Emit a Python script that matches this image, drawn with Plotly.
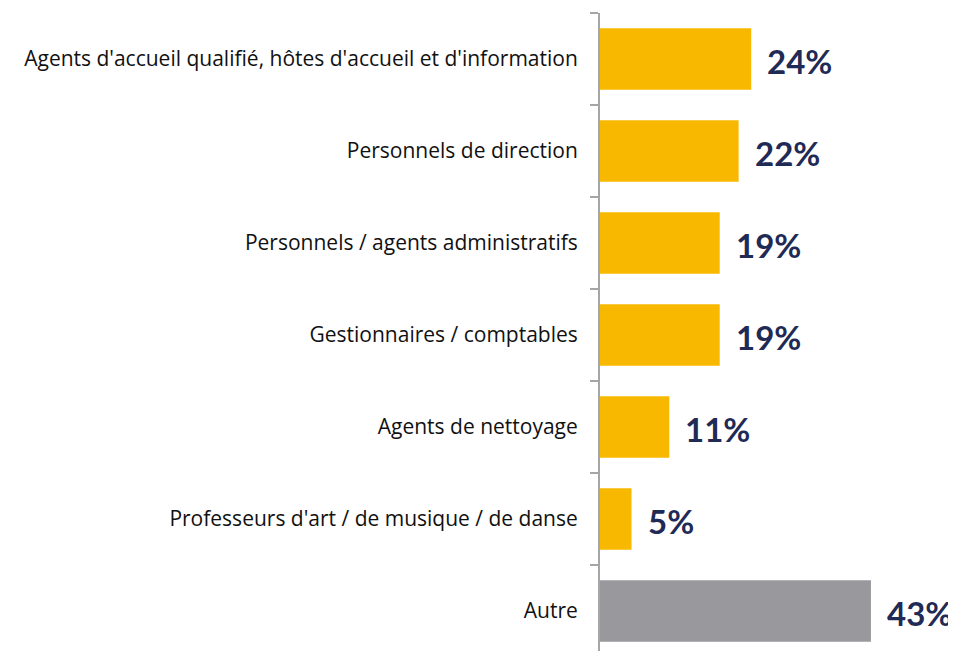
import plotly.graph_objects as go

categories = [
    "Agents d'accueil qualifié, hôtes d'accueil et d'information",
    "Personnels de direction",
    "Personnels / agents administratifs",
    "Gestionnaires / comptables",
    "Agents de nettoyage",
    "Professeurs d'art / de musique / de danse",
    "Autre",
]
values = [24, 22, 19, 19, 11, 5, 43]
labels = ["24%", "22%", "19%", "19%", "11%", "5%", "43%"]
colors = ["#F9B800"] * 6 + ["#99989C"]

fig = go.Figure(go.Bar(
    x=values, y=categories, orientation="h",
    marker=dict(color=colors, line=dict(width=0)),
    hoverinfo="skip",
))

for c, v, t in zip(categories, values, labels):
    fig.add_annotation(x=v, y=c, text=t, showarrow=False, xanchor="left",
                       xshift=14, yshift=-2,
                       font=dict(family="Lato", size=33, color="#1F2A55", weight="bold"))

fig.update_layout(
    width=948, height=643,
    margin=dict(l=592, r=0, t=5, b=0),
    plot_bgcolor="white", paper_bgcolor="white",
    bargap=0.33,
    showlegend=False,
    xaxis=dict(range=[0, 56.5], visible=False),
    yaxis=dict(
        type="category",
        range=[6.435, -0.5],
        showline=True, linecolor="#A6A6A6", linewidth=2,
        ticks="outside", ticklen=8, tickcolor="#A6A6A6", tickwidth=2,
        tickson="boundaries",
        ticklabelstandoff=16,
        tickfont=dict(family="Open Sans", size=21, color="#111111"),
        showgrid=False,
    ),
)

fig.write_html("out.html")
